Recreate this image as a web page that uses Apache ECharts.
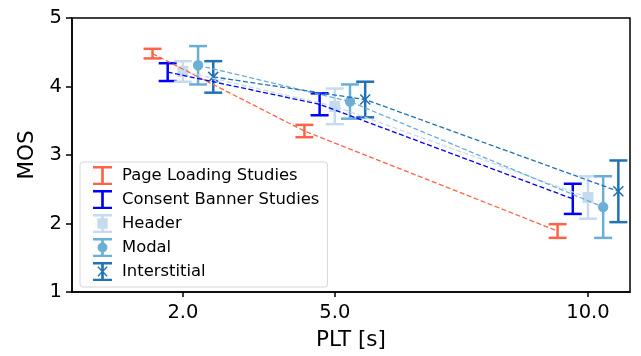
<!DOCTYPE html>
<html>
<head>
<meta charset="utf-8">
<script src="https://cdn.jsdelivr.net/npm/echarts@6/dist/echarts.min.js"></script>
<style>html,body{margin:0;padding:0;background:#fff}#c{width:641px;height:356px}</style>
</head>
<body>
<div id="c"></div>
<script>
// ---- data ----
const pltValues = [2, 5, 10];
const xTickLabels = [2, 5, 10];
const yTicks = [1, 2, 3, 4, 5];
const seriesNames = ['Page Loading Studies', 'Consent Banner Studies', 'Header', 'Modal', 'Interstitial'];
const pageLoadingMos = [4.48, 3.35, 1.89];
const pageLoadingErr = [0.07, 0.09, 0.10];
const consentMos = [4.21, 3.74, 2.36];
const consentErr = [0.13, 0.16, 0.22];
const headerMos = [4.22, 3.71, 2.38];
const headerErr = [0.15, 0.26, 0.31];
const modalMos = [4.31, 3.78, 2.24];
const modalErr = [0.28, 0.25, 0.45];
const interstitialMos = [4.14, 3.81, 2.47];
const interstitialErr = [0.23, 0.26, 0.45];

// ---- styles ----
const FONT = 'DejaVu Sans';
const colors = ['#ff6347', '#0000ff', '#c6dbef', '#6baed6', '#2171b5'];
const dodges = [-0.6, -0.3, 0, 0.3, 0.6];
const markers = ['none', 'none', 'square', 'circle', 'x'];
const means = [pageLoadingMos, consentMos, headerMos, modalMos, interstitialMos];
const errs = [pageLoadingErr, consentErr, headerErr, modalErr, interstitialErr];

const I = 'M0,0H20V2.5H11.4V17.5H20V20H0V17.5H8.6V2.5H0Z';
const icons = [
  'path://' + I,
  'path://' + I,
  'path://' + I + 'M4.5,4.5H15.5V15.5H4.5Z',
  'path://' + I + 'M15.2,10A5.2,5.2 0 1,1 4.8,10A5.2,5.2 0 1,1 15.2,10Z',
  'path://' + I + 'M4.6,5.6L5.6,4.6L15.4,14.4L14.4,15.4ZM14.4,4.6L15.4,5.6L5.6,15.4L4.6,14.4Z'
];

function errorSeries(k) {
  const color = colors[k];
  const marker = markers[k];
  return {
    name: seriesNames[k],
    type: 'custom',
    z: 2,
    data: pltValues.map((p, i) => [p + dodges[k], means[k][i], errs[k][i]]),
    renderItem: function (params, api) {
      const x = api.value(0), y = api.value(1), e = api.value(2);
      const t = api.coord([x, y + e]);
      const b = api.coord([x, y - e]);
      const c = api.coord([x, y]);
      const cap = 9;
      const ls = { stroke: color, lineWidth: 2.5 };
      const ch = [
        { type: 'line', shape: { x1: t[0], y1: t[1], x2: b[0], y2: b[1] }, style: ls },
        { type: 'line', shape: { x1: t[0] - cap, y1: t[1], x2: t[0] + cap, y2: t[1] }, style: ls },
        { type: 'line', shape: { x1: b[0] - cap, y1: b[1], x2: b[0] + cap, y2: b[1] }, style: ls }
      ];
      if (marker === 'square') {
        ch.push({ type: 'rect', shape: { x: c[0] - 5.5, y: c[1] - 5.5, width: 11, height: 11 }, style: { fill: color } });
      } else if (marker === 'circle') {
        ch.push({ type: 'circle', shape: { cx: c[0], cy: c[1], r: 5.2 }, style: { fill: color } });
      } else if (marker === 'x') {
        const s = 5;
        const xs = { stroke: color, lineWidth: 1.6 };
        ch.push({ type: 'line', shape: { x1: c[0] - s, y1: c[1] - s, x2: c[0] + s, y2: c[1] + s }, style: xs });
        ch.push({ type: 'line', shape: { x1: c[0] - s, y1: c[1] + s, x2: c[0] + s, y2: c[1] - s }, style: xs });
      }
      return { type: 'group', children: ch };
    }
  };
}

function lineSeries(k) {
  return {
    name: seriesNames[k],
    type: 'line',
    z: 3,
    symbol: 'none',
    silent: true,
    data: pltValues.map((p, i) => [p + dodges[k], means[k][i]]),
    lineStyle: { color: colors[k], width: 1.3, type: [5, 2.5] }
  };
}

const series = [];
for (let k = 0; k < seriesNames.length; k++) series.push(errorSeries(k));
for (let k = 0; k < seriesNames.length; k++) series.push(lineSeries(k));

const chart = echarts.init(document.getElementById('c'), null, { renderer: 'canvas' });
chart.setOption({
  animation: false,
  backgroundColor: '#fff',
  textStyle: { fontFamily: FONT },
  grid: { left: 72, right: 11, top: 18, bottom: 62, show: true, borderColor: '#000', borderWidth: 1.5, backgroundColor: 'transparent' },
  legend: {
    orient: 'vertical',
    left: 80, top: 162,
    itemWidth: 19, itemHeight: 19, itemGap: 5,
    padding: [4, 8, 6, 13],
    backgroundColor: '#fff',
    borderColor: '#d6d6d6', borderWidth: 1, borderRadius: 3,
    textStyle: { fontFamily: FONT, fontSize: 16.4, color: '#000', padding: [0, 0, 0, 5] },
    data: seriesNames.map((n, k) => ({ name: n, icon: icons[k], itemStyle: { color: colors[k] } }))
  },
  xAxis: {
    type: 'value',
    min: -0.19, max: 10.83,
    name: 'PLT [s]', nameLocation: 'middle', nameGap: 37,
    nameTextStyle: { fontFamily: FONT, fontSize: 21.5, color: '#000' },
    axisLine: { show: true, onZero: false, lineStyle: { color: '#000', width: 1.5 } },
    axisTick: { show: true, customValues: xTickLabels, length: 5, lineStyle: { color: '#000', width: 1.5 } },
    axisLabel: { customValues: xTickLabels, margin: 11, fontFamily: FONT, fontSize: 19.5, color: '#000', formatter: v => v.toFixed(1) },
    splitLine: { show: false }
  },
  yAxis: {
    type: 'value',
    min: yTicks[0], max: yTicks[yTicks.length - 1], interval: 1,
    name: 'MOS', nameLocation: 'middle', nameGap: 31,
    nameTextStyle: { fontFamily: FONT, fontSize: 21.5, color: '#000' },
    axisLine: { show: true, onZero: false, lineStyle: { color: '#000', width: 1.5 } },
    axisTick: { show: true, length: 6, lineStyle: { color: '#000', width: 1.5 } },
    axisLabel: { margin: 10, fontFamily: FONT, fontSize: 19.5, color: '#000' },
    splitLine: { show: false }
  },
  series: series
});
</script>
</body>
</html>
